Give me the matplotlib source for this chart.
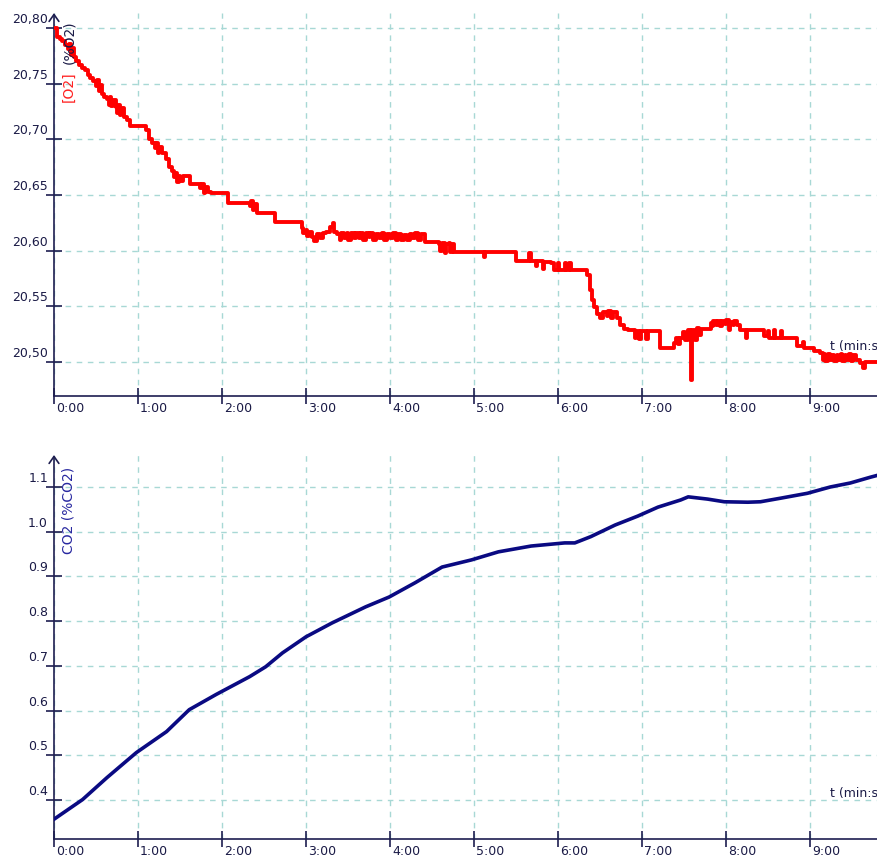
import matplotlib
matplotlib.use("Agg")
import matplotlib.pyplot as plt
from matplotlib.transforms import ScaledTranslation

# O2 trace: time (s), value (%O2)
o2_t = [0, 2, 4, 6, 8, 10, 11, 12, 13, 14, 16, 18, 20, 22, 24, 26, 28, 30, 31, 32, 33, 34, 36, 38, 39, 40,
        41, 42, 44, 45, 46, 47, 48, 50, 52, 54, 66, 68, 70, 72, 73, 74, 75, 77, 80, 82, 84, 86, 87, 88, 89,
        90, 92, 97, 104, 106, 107, 108, 110, 112, 124, 140, 141, 142, 143, 145, 158, 177, 178, 180, 181, 182,
        184, 186, 188, 190, 192, 194, 197, 199, 200, 202, 204, 205, 207, 209, 210, 212, 214, 216, 218, 219,
        221, 223, 225, 226, 228, 230, 232, 234, 236, 238, 240, 242, 244, 246, 248, 250, 252, 254, 256, 258,
        260, 262, 265, 275, 276, 277, 279, 280, 282, 283, 284, 286, 307, 308, 330, 339, 341, 344, 345, 349,
        350, 355, 357, 360, 361, 365, 366, 368, 369, 381, 383, 384, 386, 388, 390, 392, 395, 396, 398, 399,
        402, 404, 407, 410, 415, 416, 418, 419, 423, 424, 433, 443, 444, 446, 447, 449, 451, 453, 454, 455,
        456, 458, 459, 461, 462, 469, 470, 471, 473, 474, 476, 477, 479, 480, 482, 483, 485, 486, 488, 490,
        494, 495, 507, 510, 511, 514, 515, 519, 520, 531, 535, 536, 543, 547, 549, 550, 551, 553, 554, 556,
        557, 559, 560, 562, 563, 565, 566, 568, 569, 571, 573, 576, 578, 579, 590]
o2_v = [20.800, 20.792, 20.790, 20.788, 20.785, 20.781, 20.786, 20.776, 20.782, 20.774, 20.770, 20.767,
        20.764, 20.762, 20.758, 20.755, 20.752, 20.748, 20.753, 20.743, 20.749, 20.741, 20.738, 20.736,
        20.731, 20.738, 20.730, 20.735, 20.729, 20.724, 20.731, 20.722, 20.728, 20.720, 20.717, 20.712,
        20.708, 20.700, 20.697, 20.692, 20.697, 20.688, 20.693, 20.688, 20.682, 20.675, 20.672, 20.666,
        20.670, 20.662, 20.667, 20.663, 20.667, 20.660, 20.656, 20.660, 20.652, 20.657, 20.653, 20.652,
        20.643, 20.640, 20.645, 20.637, 20.642, 20.634, 20.626, 20.620, 20.616, 20.619, 20.613, 20.617,
        20.612, 20.609, 20.615, 20.611, 20.616, 20.617, 20.621, 20.625, 20.617, 20.615, 20.610, 20.616,
        20.611, 20.616, 20.610, 20.616, 20.611, 20.616, 20.611, 20.616, 20.610, 20.616, 20.612, 20.616,
        20.610, 20.615, 20.611, 20.616, 20.610, 20.615, 20.611, 20.616, 20.610, 20.615, 20.610, 20.614,
        20.610, 20.615, 20.611, 20.616, 20.610, 20.615, 20.608, 20.606, 20.600, 20.607, 20.598, 20.606,
        20.607, 20.599, 20.606, 20.599, 20.594, 20.599, 20.591, 20.598, 20.591, 20.586, 20.591, 20.584,
        20.590, 20.589, 20.583, 20.589, 20.583, 20.589, 20.583, 20.589, 20.583, 20.578, 20.565, 20.556,
        20.549, 20.543, 20.540, 20.545, 20.541, 20.546, 20.540, 20.545, 20.540, 20.533, 20.530, 20.529,
        20.522, 20.528, 20.521, 20.528, 20.521, 20.528, 20.513, 20.517, 20.522, 20.516, 20.522, 20.527,
        20.520, 20.529, 20.528, 20.484, 20.529, 20.520, 20.531, 20.524, 20.530, 20.535, 20.532, 20.537,
        20.533, 20.537, 20.532, 20.537, 20.534, 20.538, 20.529, 20.536, 20.533, 20.537, 20.533, 20.529,
        20.522, 20.529, 20.523, 20.528, 20.522, 20.529, 20.522, 20.528, 20.522, 20.514, 20.518, 20.513,
        20.510, 20.508, 20.502, 20.507, 20.501, 20.507, 20.502, 20.506, 20.501, 20.506, 20.502, 20.507,
        20.501, 20.506, 20.502, 20.507, 20.501, 20.506, 20.502, 20.499, 20.495, 20.500, 20.500]

# CO2 trace: time (min), value (%CO2)
co2_t = [0, 0.34, 0.63, 0.98, 1.34, 1.61, 1.93, 2.33, 2.52, 2.72, 3.00, 3.31, 3.71, 3.99, 4.30, 4.62,
         4.97, 5.29, 5.68, 6.08, 6.20, 6.39, 6.68, 6.95, 7.19, 7.46, 7.55, 7.78, 7.98, 8.26, 8.41, 8.65,
         8.97, 9.24, 9.48, 9.72, 9.82]
co2_v = [0.357, 0.401, 0.450, 0.506, 0.553, 0.602, 0.636, 0.676, 0.698, 0.729, 0.765, 0.796, 0.832,
         0.854, 0.886, 0.921, 0.937, 0.955, 0.968, 0.975, 0.975, 0.989, 1.015, 1.035, 1.055, 1.071,
         1.078, 1.073, 1.067, 1.066, 1.067, 1.075, 1.086, 1.100, 1.109, 1.122, 1.127]

x_ticks = list(range(10))
x_labels = ['%d:00' % m for m in x_ticks]
o2_ticks = [20.50, 20.55, 20.60, 20.65, 20.70, 20.75, 20.80]
o2_labels = ['20,50', '20,55', '20,60', '20,65', '20,70', '20,75', '20,80']
co2_ticks = [0.4, 0.5, 0.6, 0.7, 0.8, 0.9, 1.0, 1.1]
co2_labels = ['0.4', '0.5', '0.6', '0.7', '0.8', '0.9', '1.0', '1.1']

W, H = 877, 857
AXC = '#1e1e50'
GRID = '#a8d8d5'
TXT = '#1a1a46'

fig = plt.figure(figsize=(W / 100, H / 100), dpi=100)


def fx(px):
    return px / W


def fy(py):
    return 1 - py / H


def style_axes(ax, yticks, ylabels, ylim):
    ax.set_xlim(0, 823 / 84)
    ax.set_ylim(*ylim)
    for s in ['top', 'right', 'left']:
        ax.spines[s].set_visible(False)
    ax.spines['bottom'].set_color(AXC)
    ax.spines['bottom'].set_linewidth(1.2)
    ax.set_xticks(x_ticks)
    ax.set_yticks(yticks)
    ax.tick_params(axis='both', direction='inout', length=11, width=1.2, color=AXC,
                   labelleft=False, labelbottom=False)
    ax.grid(True, color=GRID, linestyle=(0, (4, 4)), linewidth=1)
    ax.set_axisbelow(True)
    # y axis line with arrow on top
    ax.annotate('', xy=(0, 1), xycoords='axes fraction', xytext=(0, 0),
                arrowprops=dict(arrowstyle='->,head_length=0.5,head_width=0.35',
                                color=AXC, lw=1.2, shrinkA=0, shrinkB=0))
    ytr = ax.get_yaxis_transform() + ScaledTranslation(-6 / 100, 2 / 100, fig.dpi_scale_trans)
    for v, lab in zip(yticks, ylabels):
        ax.text(0, v, lab, transform=ytr, ha='right', va='bottom', fontsize=9, color=TXT)
    xtr = ax.get_xaxis_transform() + ScaledTranslation(2 / 100, -6 / 100, fig.dpi_scale_trans)
    for v, lab in zip(x_ticks, x_labels):
        ax.text(v, 0, lab, transform=xtr, ha='left', va='top', fontsize=9, color=TXT)


# top panel: O2
ax1 = fig.add_axes([fx(54), fy(396), fx(W - 54), (396 - 13) / H])
style_axes(ax1, o2_ticks, o2_labels, (20.4695, 20.8135))
ax1.plot([t / 60 for t in o2_t], o2_v, color='#ff0000', lw=2.8, drawstyle='steps-post',
         zorder=3, clip_on=True)
ax1.text(fx(830), fy(353), 't (min:s)', transform=fig.transFigure, fontsize=9, color=TXT,
         ha='left', va='bottom', zorder=1)
fig.text(fx(69), fy(102), '[O2]', rotation=90, color='#ff2020', fontsize=10,
         ha='center', va='bottom')
fig.text(fx(69), fy(20), '(%O2)', rotation=90, color=TXT, fontsize=10,
         ha='center', va='top')

# bottom panel: CO2
ax2 = fig.add_axes([fx(54), fy(839), fx(W - 54), (839 - 455) / H])
style_axes(ax2, co2_ticks, co2_labels, (0.3128, 1.1716))
ax2.plot(co2_t, co2_v, color='#0a0a82', lw=2.6, zorder=3)
ax2.text(fx(830), fy(800), 't (min:s)', transform=fig.transFigure, fontsize=9, color=TXT,
         ha='left', va='bottom', zorder=1)
fig.text(fx(68), fy(510), 'CO2 (%CO2)', rotation=90, color='#2828a0', fontsize=10,
         ha='center', va='center')

fig.savefig('out.png', dpi=100)
